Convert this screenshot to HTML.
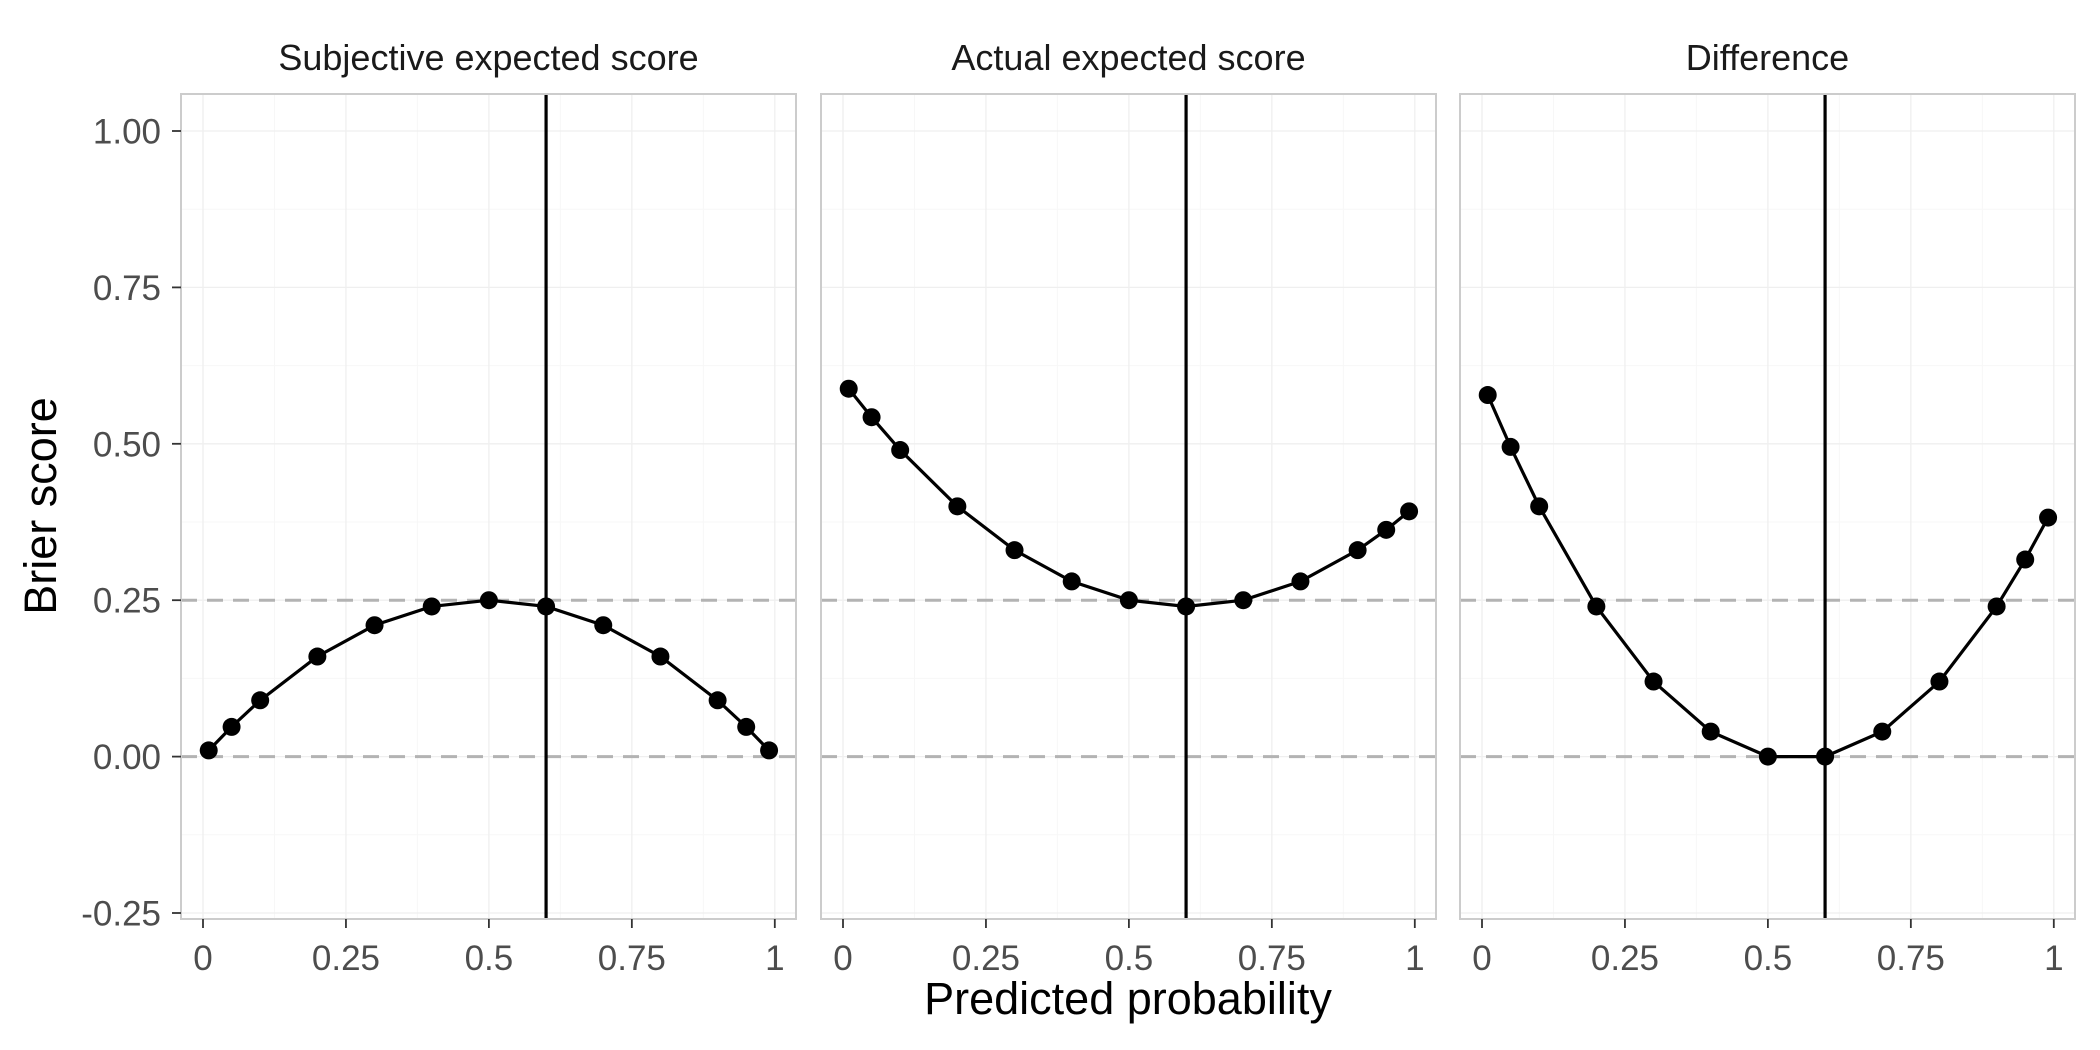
<!DOCTYPE html>
<html><head><meta charset="utf-8"><style>
html,body{margin:0;padding:0;background:#fff;}
svg{display:block;font-family:"Liberation Sans",sans-serif;}
</style></head><body>
<svg id="chart" width="2100" height="1050" viewBox="0 0 2100 1050"></svg>
<script>
const xValues = [0.01,0.05,0.1,0.2,0.3,0.4,0.5,0.6,0.7,0.8,0.9,0.95,0.99];
const subjective = [0.0099,0.0475,0.09,0.16,0.21,0.24,0.25,0.24,0.21,0.16,0.09,0.0475,0.0099];
const actual = [0.588,0.5425,0.49,0.4,0.33,0.28,0.25,0.24,0.25,0.28,0.33,0.3625,0.392];
const difference = [0.578,0.495,0.4,0.24,0.12,0.04,0,0,0.04,0.12,0.24,0.315,0.382];
const panelTitles = ["Subjective expected score","Actual expected score","Difference"];
const xTicks = [0,0.25,0.5,0.75,1];
const xTickLabels = ["0","0.25","0.5","0.75","1"];
const yTicks = [-0.25,0,0.25,0.5,0.75,1];
const yTickLabels = ["-0.25","0.00","0.25","0.50","0.75","1.00"];
const hLines = [0,0.25];
const vLine = 0.6;

const svg = document.getElementById('chart');
const NS = 'http://www.w3.org/2000/svg';
function mk(tag, attrs, parent){const e=document.createElementNS(NS,tag);for(const k in attrs)e.setAttribute(k,attrs[k]);(parent||svg).appendChild(e);return e;}

const panelLefts=[181,821,1460], panelW=615, plotTop=94, plotBottom=919;
const yScale=v=>756.6-(v)*625.6;
const series=[subjective,actual,difference];
const names=['subjective','actual','difference'];

panelLefts.forEach((L,pi)=>{
  const xScale=v=>L+22+v*571.8;
  const g=mk('g',{});
  
  
  for(let i=0;i<xTicks.length-1;i++){const m=(xTicks[i]+xTicks[i+1])/2;mk('line',{x1:xScale(m),x2:xScale(m),y1:plotTop,y2:plotBottom,stroke:'#f7f7f7','stroke-width':1},g);}
  for(let i=0;i<yTicks.length-1;i++){const m=(yTicks[i]+yTicks[i+1])/2;mk('line',{x1:L,x2:L+panelW,y1:yScale(m),y2:yScale(m),stroke:'#f7f7f7','stroke-width':1},g);}
  xTicks.forEach(t=>mk('line',{x1:xScale(t),x2:xScale(t),y1:plotTop,y2:plotBottom,stroke:'#efefef','stroke-width':1.3},g));
  yTicks.forEach(t=>mk('line',{x1:L,x2:L+panelW,y1:yScale(t),y2:yScale(t),stroke:'#efefef','stroke-width':1.3},g));
  hLines.forEach(h=>{const l=mk('line',{x1:L,x2:L+panelW,y1:yScale(h),y2:yScale(h),stroke:'#b3b3b3','stroke-width':3,'stroke-dasharray':'16,10'},g);
    
    });
  const vl=mk('line',{x1:xScale(vLine),x2:xScale(vLine),y1:plotTop,y2:plotBottom,stroke:'#000','stroke-width':3.2},g);
  
  
  const vals=series[pi];
  const pts=xValues.map((x,i)=>xScale(x)+','+yScale(vals[i])).join(' ');
  const pl=mk('polyline',{points:pts,fill:'none',stroke:'#000','stroke-width':3.2},g);
  
  
  xValues.forEach((x,i)=>{const c=mk('circle',{cx:xScale(x),cy:yScale(vals[i]),r:9,fill:'#000'},g);
    
    });
  mk('rect',{x:L,y:plotTop,width:panelW,height:plotBottom-plotTop,fill:'none',stroke:'#cccccc','stroke-width':2},g);
  const st=mk('text',{x:L+panelW/2,y:70,'text-anchor':'middle','font-size':36,fill:'#1a1a1a'},g);
  st.textContent=panelTitles[pi];
  
  
  xTicks.forEach((t,i)=>{mk('line',{x1:xScale(t),x2:xScale(t),y1:plotBottom,y2:plotBottom+9,stroke:'#333','stroke-width':1.8},g);
    const tx=mk('text',{x:xScale(t),y:970,'text-anchor':'middle','font-size':35,fill:'#4d4d4d'},g);
    tx.textContent=xTickLabels[i];
    
    });
});
yTicks.forEach((t,i)=>{mk('line',{x1:172,x2:181,y1:yScale(t),y2:yScale(t),stroke:'#333','stroke-width':1.8});
  const tx=mk('text',{x:161,y:yScale(t)+12.5,'text-anchor':'end','font-size':35,fill:'#4d4d4d'});
  tx.textContent=yTickLabels[i];
  
  });
const xt=mk('text',{x:1128,y:1014,'text-anchor':'middle','font-size':45,fill:'#000'});
xt.textContent='Predicted probability';


const yt=mk('text',{x:0,y:0,'text-anchor':'middle','font-size':45,fill:'#000',transform:'translate(56,506) rotate(-90)'});
yt.textContent='Brier score';


</script>
</body></html>
